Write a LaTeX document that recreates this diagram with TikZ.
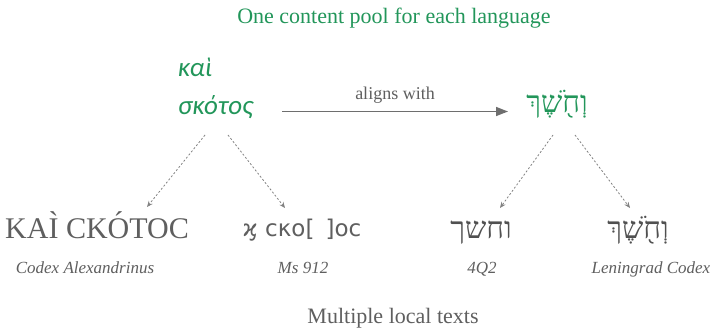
\documentclass[tikz,border=0pt]{standalone}
\usepackage{fontspec}
\setmainfont{Liberation Serif}
\newfontfamily\grkfont{Carlito}
\newfontfamily\hebfont[Script=Hebrew]{Liberation Serif}
\newfontfamily\msfont{DejaVu Sans}
\TeXXeTstate=1
\usetikzlibrary{arrows.meta}
\definecolor{pool}{RGB}{34,150,90}
\definecolor{txt}{RGB}{95,95,95}
\definecolor{heb}{RGB}{80,80,80}
\definecolor{arr}{RGB}{110,110,110}
\definecolor{darr}{RGB}{130,130,130}
\newcommand\capacc[2]{\leavevmode\setbox0\hbox{#1}\rlap{\hbox to\wd0{\hss\raisebox{0.2em}{#2}\hss}}\box0\relax}
\tikzset{
  fs/.style={font=\fontsize{#1}{#1}\selectfont},
  heading/.style={text=pool, fs=22},
  caption/.style={text=txt, fs=22},
  greek/.style={text=pool, font=\fontsize{27}{27}\selectfont\grkfont\itshape, anchor=base west, inner sep=0},
  hebgreen/.style={text=pool, font=\fontsize{30}{30}\selectfont\hebfont, inner sep=0, anchor=base},
  witness/.style={text=txt, anchor=base, inner sep=0},
  siglum/.style={text=txt, font=\fontsize{17}{17}\selectfont\itshape, anchor=base, inner sep=0},
  align/.style={draw=arr, line width=1.6pt, -{Triangle[length=12pt,width=9pt]}},
  derive/.style={draw=darr, line width=0.8pt, dash pattern=on 2pt off 2pt, -{Stealth[length=6pt,width=5pt]}},
}
\begin{document}
\begin{tikzpicture}[x=1pt,y=-1pt]
\useasboundingbox[fill=white] (0,0) rectangle (712,329);
\node[heading] (title) at (394,18) {One content pool for each language};
\node[greek] (kai) at (178,77) {καὶ};
\node[greek] (skotos) at (178,114) {σκότος};
\node[hebgreen] (hebpool) at (557,112) {\beginR וְחֹ֖שֶׁךְ\endR};
\coordinate (alS) at (282,111.5);
\coordinate (alE) at (508,111.5);
\draw[align] (alS) -- node[above=7pt, text=txt, fs=18, inner sep=0] (alignlbl) {aligns with} (alE);
\node[witness, font=\fontsize{30}{30}\selectfont] (alex) at (97,238) {ΚΑ\capacc{Ι}{ˋ} ϹΚ\capacc{Ο}{ˊ}ΤΟϹ};
\node[witness, font=\fontsize{23}{23}\selectfont\msfont] (ms) at (302,236) {ϗ ϲκο[ \,]οϲ};
\node[witness, text=heb, font=\fontsize{30}{30}\selectfont\hebfont] (q2) at (481,238) {\beginR וחשך\endR};
\node[witness, text=heb, font=\fontsize{30}{30}\selectfont\hebfont] (len) at (638,238) {\beginR וְחֹ֖שֶׁךְ\endR};
\node[siglum] (alexS) at (85,273) {Codex Alexandrinus};
\node[siglum] (msS) at (303,273) {Ms 912};
\node[siglum] (q2S) at (482,273) {4Q2};
\node[siglum] (lenS) at (651,273) {Leningrad Codex};
\node[caption] (bottom) at (393,318) {Multiple local texts};
\coordinate (g1) at (205,135);
\coordinate (g1e) at (147,207);
\coordinate (g2) at (228,135);
\coordinate (g2e) at (285,208);
\coordinate (h1) at (553,135);
\coordinate (h1e) at (500,208);
\coordinate (h2) at (575,135);
\coordinate (h2e) at (630,208);
\draw[derive] (g1) -- (g1e);
\draw[derive] (g2) -- (g2e);
\draw[derive] (h1) -- (h1e);
\draw[derive] (h2) -- (h2e);
\end{tikzpicture}
\end{document}
